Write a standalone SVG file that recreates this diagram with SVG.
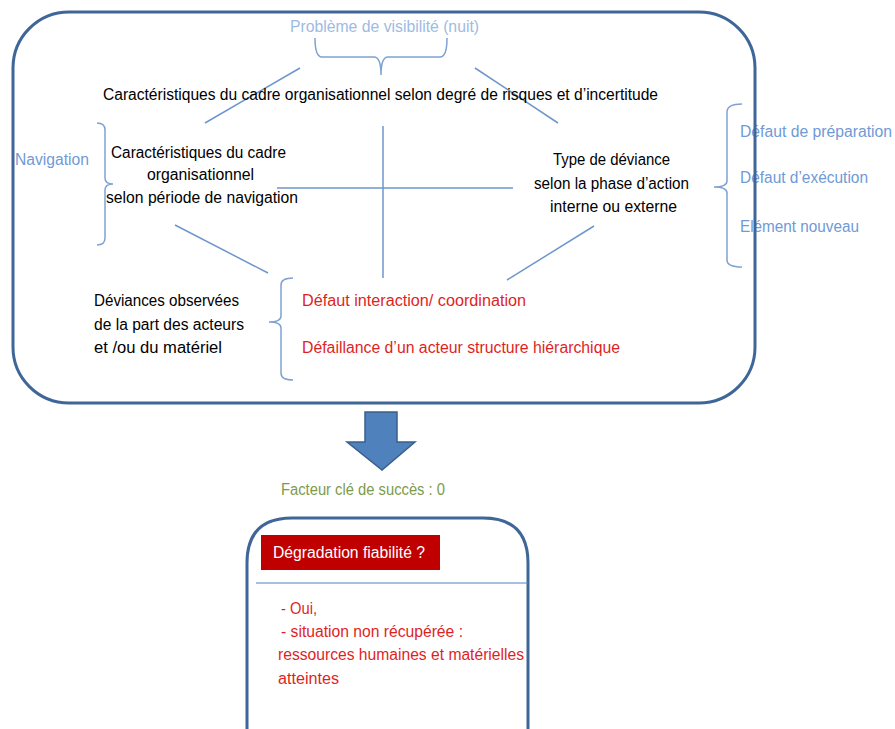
<svg xmlns="http://www.w3.org/2000/svg" width="895" height="729" viewBox="0 0 895 729">
<style>
text{font-family:"Liberation Sans",Arial,sans-serif;font-size:16px}
.k{fill:#000}
.lb{fill:#9dbbe3}
.b{fill:#6f9ad6}
.r{fill:#e01f1f}
.g{fill:#7e9a4c}
.w{fill:#fff}
.frame{fill:none;stroke:#3f6698;stroke-width:3}
.ln{fill:none;stroke:#6f96cc;stroke-width:1.5}
.br{fill:none;stroke:#7ea2d2;stroke-width:1.5}
</style>
<rect width="895" height="729" fill="#fff"/>
<g id="connectors">
<line class="ln" x1="300" y1="68" x2="205" y2="123"/>
<line class="ln" x1="475" y1="68" x2="558" y2="123"/>
<line class="ln" x1="383" y1="126" x2="383" y2="278"/>
<line class="ln" x1="277" y1="188" x2="513" y2="188"/>
<line class="ln" x1="175" y1="225" x2="268" y2="273"/>
<line class="ln" x1="594" y1="226" x2="507" y2="280"/>
</g>
<g id="visibility">
<text class="lb" x="290" y="32" textLength="189" lengthAdjust="spacingAndGlyphs">Problème de visibilité (nuit)</text>
<path class="br" d="M315,38 Q315,57 322,57 L374,57 Q381,57 381,75 Q381,57 388,57 L440,57 Q447,57 447,38"/>
</g>
<g id="risk">
<text class="k" x="103" y="100" textLength="555" lengthAdjust="spacingAndGlyphs">Caractéristiques du cadre organisationnel selon degré de risques et d’incertitude</text>
</g>
<g id="navigation">
<text class="b" x="15" y="165" textLength="74" lengthAdjust="spacingAndGlyphs">Navigation</text>
<path class="br" d="M97,123 Q105,123 105,130 L105,178 Q105,184 113,184 Q105,184 105,190 L105,238 Q105,245 97,245"/>
<text class="k" x="111" y="158" textLength="175" lengthAdjust="spacingAndGlyphs">Caractéristiques du cadre</text>
<text class="k" x="147" y="180" textLength="107" lengthAdjust="spacingAndGlyphs">organisationnel</text>
<text class="k" x="106" y="203" textLength="192" lengthAdjust="spacingAndGlyphs">selon période de navigation</text>
</g>
<g id="deviance-type">
<text class="k" x="553" y="165" textLength="117" lengthAdjust="spacingAndGlyphs">Type de déviance</text>
<text class="k" x="534" y="189" textLength="155" lengthAdjust="spacingAndGlyphs">selon la phase  d’action</text>
<text class="k" x="550" y="212" textLength="127" lengthAdjust="spacingAndGlyphs">interne ou externe</text>
<path class="br" d="M742,104 Q727,104 727,112 L727,181 Q727,187 714,187 Q727,187 727,193 L727,260 Q727,267 742,267"/>
<text class="b" x="740" y="137" textLength="152" lengthAdjust="spacingAndGlyphs">Défaut de préparation</text>
<text class="b" x="740" y="183" textLength="128" lengthAdjust="spacingAndGlyphs">Défaut d’exécution</text>
<text class="b" x="740" y="232" textLength="119" lengthAdjust="spacingAndGlyphs">Elément nouveau</text>
</g>
<g id="observed">
<text class="k" x="94" y="306" textLength="145" lengthAdjust="spacingAndGlyphs">Déviances observées</text>
<text class="k" x="94" y="330" textLength="150" lengthAdjust="spacingAndGlyphs">de la part des acteurs</text>
<text class="k" x="94" y="353" textLength="128" lengthAdjust="spacingAndGlyphs">et /ou du matériel</text>
<path class="br" d="M293,278 Q281,278 281,285 L281,316 Q281,322 269,322 Q281,322 281,328 L281,373 Q281,380 293,380"/>
<text class="r" x="302" y="306" textLength="224" lengthAdjust="spacingAndGlyphs">Défaut interaction/ coordination</text>
<text class="r" x="302" y="353" textLength="318" lengthAdjust="spacingAndGlyphs">Défaillance d’un acteur structure hiérarchique</text>
</g>
<g id="main-frame">
<rect class="frame" x="13" y="12" width="742" height="391" rx="56" ry="56"/>
</g>
<g id="arrow">
<path d="M365,412 L397,412 L397,442 L415,442 L382,470 L347,442 L365,442 Z" fill="#4f81bd" stroke="#3a5f8c" stroke-width="1.5"/>
</g>
<g id="success">
<text class="g" x="281" y="495" textLength="164" lengthAdjust="spacingAndGlyphs">Facteur clé de succès : 0</text>
</g>
<g id="reliability">
<path class="frame" d="M247,740 L247,563 Q247,518 292,518 L483,518 Q528,518 528,563 L528,740"/>
<rect x="261" y="535" width="179" height="35" fill="#c00000"/>
<text class="w" x="273" y="558" textLength="152" lengthAdjust="spacingAndGlyphs">Dégradation fiabilité ?</text>
<line x1="256" y1="583" x2="528" y2="583" stroke="#4f81bd" stroke-width="1.2"/>
<text class="r" x="281" y="614" textLength="36" lengthAdjust="spacingAndGlyphs">- Oui,</text>
<text class="r" x="281" y="637" textLength="182" lengthAdjust="spacingAndGlyphs">- situation non récupérée :</text>
<text class="r" x="278" y="660" textLength="246" lengthAdjust="spacingAndGlyphs">ressources humaines et matérielles</text>
<text class="r" x="278" y="684" textLength="61" lengthAdjust="spacingAndGlyphs">atteintes</text>
</g>
</svg>
